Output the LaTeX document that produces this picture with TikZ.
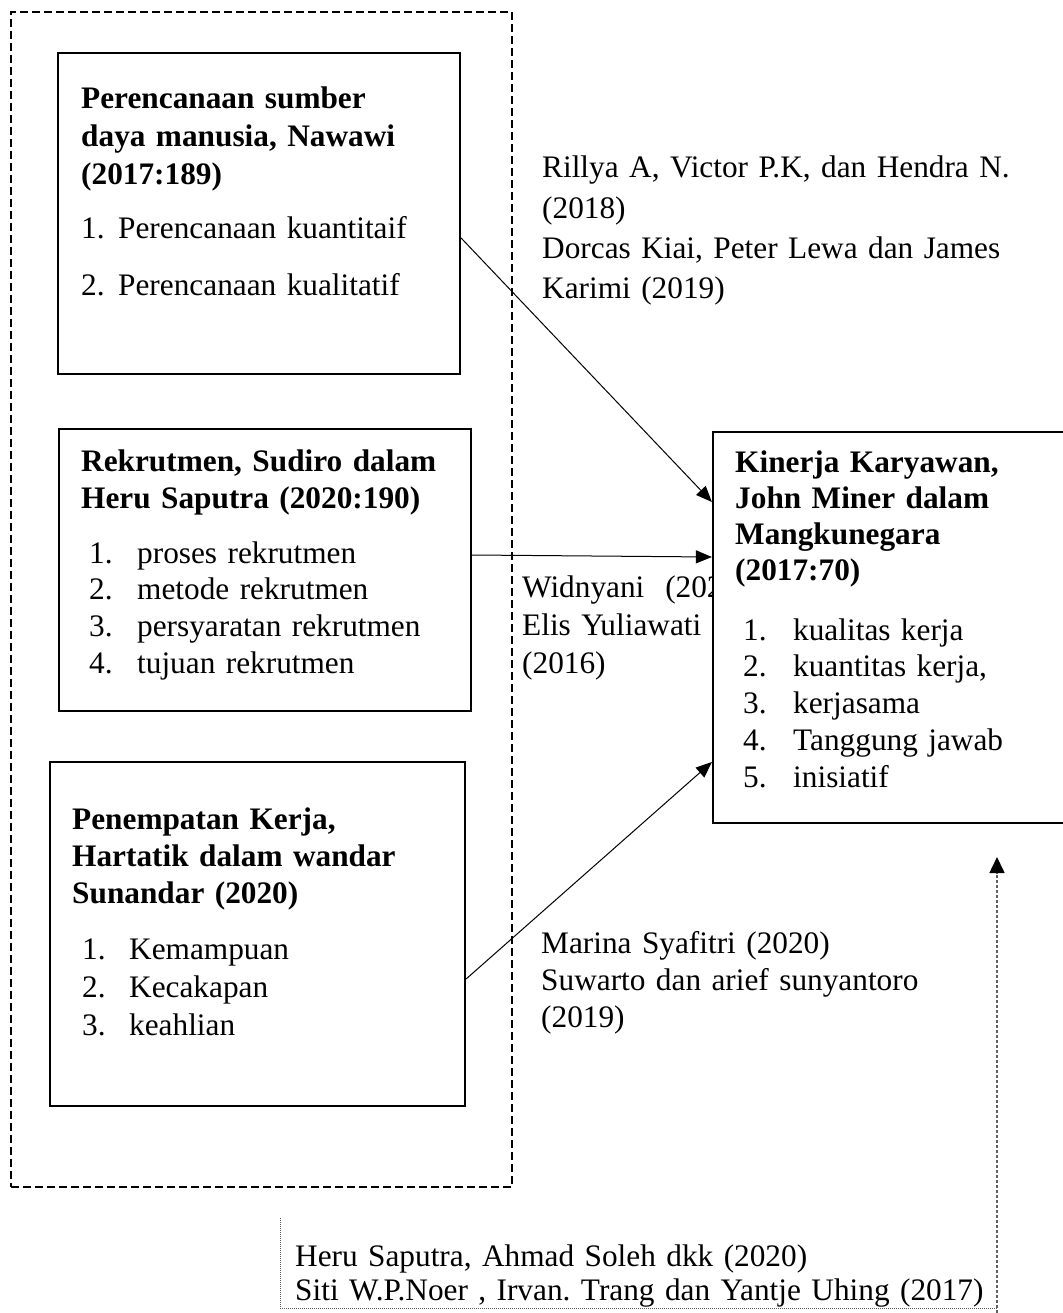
\documentclass[tikz,border=0pt]{standalone}
\usepackage{fontspec}
\setmainfont{Liberation Serif}
\usetikzlibrary{arrows.meta}
\newcommand{\nitem}[3]{\makebox[#1][l]{#2}#3}
\frenchspacing
\begin{document}
\begin{tikzpicture}[x=1pt,y=-1pt,
  box/.style={draw=black, line width=2.2pt, fill=white, inner sep=0pt},
  txt/.style={anchor=base west, inner sep=0pt, align=left, text width=#1},
  txt/.default=520pt,
  ttl/.style={txt, font=\fontsize{31.3pt}{#1}\selectfont\bfseries\frenchspacing},
  lst/.style={txt, font=\fontsize{31.3pt}{#1}\selectfont\frenchspacing},
  arr/.style={line width=1pt, -{Triangle[length=16pt,width=13pt]}},
]
\useasboundingbox (0,0) rectangle (1062,1313);

% outer dashed frame
\node (frame) [draw=black, line width=2.4pt, dash pattern=on 8pt off 4pt,
  minimum width=501pt, minimum height=1175pt, inner sep=0pt] at (261.5,599.5) {};

% boxes
\node (b1) [box, minimum width=402pt, minimum height=321pt] at (259,213.5) {};
\node (b2) [box, minimum width=412pt, minimum height=282pt] at (265,570) {};
\node (b3) [box, minimum width=415pt, minimum height=344pt] at (257.5,934) {};

% text partly hidden behind box 4
\node (widn) [lst=38pt] at (522,597) {Widnyani\ \ (2020)\\ Elis Yuliawati\\ (2016)};

\node (b4) [box, minimum width=357pt, minimum height=391pt] at (891.5,627.5) {};

% box 1 text
\node (t1) [ttl=38pt] at (81,109) {Perencanaan sumber\\ daya manusia, Nawawi\\ (2017:189)};
\node (l1) [lst=37pt] at (81,239) {\nitem{37pt}{1.}{Perencanaan kuantitaif}\\[20pt]
  \nitem{37pt}{2.}{Perencanaan kualitatif}};

% box 2 text
\node (t2) [ttl=37pt] at (81,471) {Rekrutmen, Sudiro dalam\\ Heru Saputra (2020:190)};
\node (l2) [lst=36.7pt] at (89,563) {\nitem{48pt}{1.}{proses rekrutmen}\\
  \nitem{48pt}{2.}{metode rekrutmen}\\
  \nitem{48pt}{3.}{persyaratan rekrutmen}\\
  \nitem{48pt}{4.}{tujuan rekrutmen}};

% box 3 text
\node (t3) [ttl=37pt] at (72,829) {Penempatan Kerja,\\ Hartatik dalam wandar\\ Sunandar (2020)};
\node (l3) [lst=38pt] at (82,959) {\nitem{47pt}{1.}{Kemampuan}\\
  \nitem{47pt}{2.}{Kecakapan}\\
  \nitem{47pt}{3.}{keahlian}};

% box 4 text
\node (t4) [ttl=36.3pt] at (735,472) {Kinerja Karyawan,\\ John Miner dalam\\ Mangkunegara\\ (2017:70)};
\node (l4) [lst=36.75pt] at (743,640) {\nitem{50pt}{1.}{kualitas kerja}\\
  \nitem{50pt}{2.}{kuantitas kerja,}\\
  \nitem{50pt}{3.}{kerjasama}\\
  \nitem{50pt}{4.}{Tanggung jawab}\\
  \nitem{50pt}{5.}{inisiatif}};

% references
\node (rill) [lst=40.3pt] at (542,178) {Rillya A, Victor P.K, dan Hendra N.\\ (2018)\\
  Dorcas Kiai, Peter Lewa dan James\\ Karimi (2019)};
\node (mar) [lst=37pt] at (541,953) {Marina Syafitri (2020)\\ Suwarto dan arief sunyantoro\\ (2019)};
\node (heru) [lst=34pt, text width=720pt] at (295,1266) {Heru Saputra, Ahmad Soleh dkk (2020)\\
  Siti W.P.Noer , Irvan. Trang dan Yantje Uhing (2017)};

% connectors
\draw[arr] ([yshift=-24.5pt]b1.east) -- ([yshift=125.5pt]b4.west);
\draw[arr] ([yshift=15pt]b2.east) -- ([yshift=70.5pt]b4.west);
\draw[arr] ([yshift=-45pt]b3.east) -- ([yshift=-134.5pt]b4.west);

% bottom reference frame and dashed arrow
\coordinate (rtl) at (280,1218);
\coordinate (rbl) at (280,1308);
\coordinate (rbr) at (997,1308);
\coordinate (rbase) at (997,1313);
\coordinate (ktip) at (997,857);
\draw[gray!70!black, line width=1pt, densely dotted] (rtl) -- (rbl) -- (rbr);
\draw[gray!75!black, line width=1.6pt, dash pattern=on 3pt off 2pt,
  -{Triangle[length=16pt,width=15pt,color=black]}] (rbase) -- (ktip);
\end{tikzpicture}
\end{document}
